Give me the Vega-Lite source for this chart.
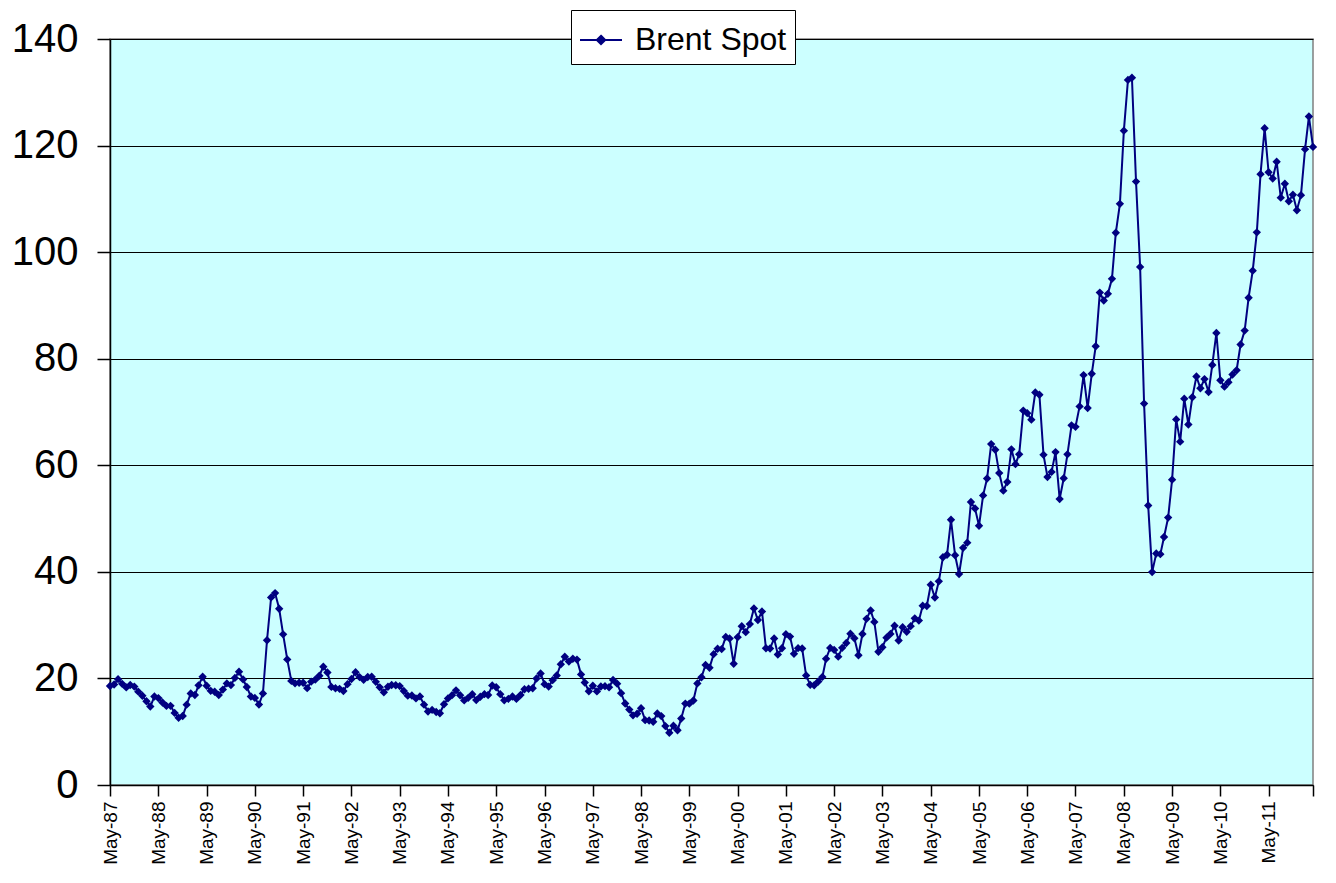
{
  "$schema": "https://vega.github.io/schema/vega-lite/v6.json",
  "width": 1203,
  "height": 746,
  "autosize": {"type": "none"},
  "padding": {"left": 110, "top": 39, "right": 23, "bottom": 98},
  "background": "#ffffff",
  "config": {
    "font": "Liberation Sans",
    "view": {"fill": "#CCFFFF", "stroke": "#808080", "strokeWidth": 1.5}
  },
  "data": {
    "values": [
      {"d":"1987-05","v":18.58},{"d":"1987-06","v":18.86},{"d":"1987-07","v":19.86},{"d":"1987-08","v":18.98},{"d":"1987-09","v":18.31},{"d":"1987-10","v":18.76},{"d":"1987-11","v":18.47},{"d":"1987-12","v":17.52},
      {"d":"1988-01","v":16.75},{"d":"1988-02","v":15.72},{"d":"1988-03","v":14.73},{"d":"1988-04","v":16.60},{"d":"1988-05","v":16.31},{"d":"1988-06","v":15.48},{"d":"1988-07","v":14.84},{"d":"1988-08","v":14.86},{"d":"1988-09","v":13.53},{"d":"1988-10","v":12.61},{"d":"1988-11","v":12.94},{"d":"1988-12","v":15.08},
      {"d":"1989-01","v":17.18},{"d":"1989-02","v":16.89},{"d":"1989-03","v":18.70},{"d":"1989-04","v":20.32},{"d":"1989-05","v":18.63},{"d":"1989-06","v":17.67},{"d":"1989-07","v":17.51},{"d":"1989-08","v":16.88},{"d":"1989-09","v":17.91},{"d":"1989-10","v":19.06},{"d":"1989-11","v":18.75},{"d":"1989-12","v":20.10},
      {"d":"1990-01","v":21.25},{"d":"1990-02","v":19.81},{"d":"1990-03","v":18.39},{"d":"1990-04","v":16.61},{"d":"1990-05","v":16.35},{"d":"1990-06","v":15.10},{"d":"1990-07","v":17.17},{"d":"1990-08","v":27.17},{"d":"1990-09","v":35.20},{"d":"1990-10","v":36.02},{"d":"1990-11","v":33.07},{"d":"1990-12","v":28.27},
      {"d":"1991-01","v":23.57},{"d":"1991-02","v":19.54},{"d":"1991-03","v":19.08},{"d":"1991-04","v":19.18},{"d":"1991-05","v":19.19},{"d":"1991-06","v":18.17},{"d":"1991-07","v":19.40},{"d":"1991-08","v":19.77},{"d":"1991-09","v":20.50},{"d":"1991-10","v":22.21},{"d":"1991-11","v":21.11},{"d":"1991-12","v":18.41},
      {"d":"1992-01","v":18.16},{"d":"1992-02","v":18.05},{"d":"1992-03","v":17.63},{"d":"1992-04","v":18.92},{"d":"1992-05","v":19.89},{"d":"1992-06","v":21.16},{"d":"1992-07","v":20.25},{"d":"1992-08","v":19.74},{"d":"1992-09","v":20.27},{"d":"1992-10","v":20.32},{"d":"1992-11","v":19.36},{"d":"1992-12","v":18.33},
      {"d":"1993-01","v":17.39},{"d":"1993-02","v":18.44},{"d":"1993-03","v":18.77},{"d":"1993-04","v":18.71},{"d":"1993-05","v":18.56},{"d":"1993-06","v":17.64},{"d":"1993-07","v":16.77},{"d":"1993-08","v":16.79},{"d":"1993-09","v":16.25},{"d":"1993-10","v":16.62},{"d":"1993-11","v":15.08},{"d":"1993-12","v":13.79},
      {"d":"1994-01","v":14.09},{"d":"1994-02","v":13.69},{"d":"1994-03","v":13.46},{"d":"1994-04","v":15.15},{"d":"1994-05","v":16.25},{"d":"1994-06","v":16.86},{"d":"1994-07","v":17.77},{"d":"1994-08","v":16.84},{"d":"1994-09","v":15.87},{"d":"1994-10","v":16.36},{"d":"1994-11","v":17.04},{"d":"1994-12","v":15.93},
      {"d":"1995-01","v":16.56},{"d":"1995-02","v":17.05},{"d":"1995-03","v":16.90},{"d":"1995-04","v":18.67},{"d":"1995-05","v":18.34},{"d":"1995-06","v":17.05},{"d":"1995-07","v":15.89},{"d":"1995-08","v":16.17},{"d":"1995-09","v":16.60},{"d":"1995-10","v":16.16},{"d":"1995-11","v":16.90},{"d":"1995-12","v":17.96},
      {"d":"1996-01","v":18.06},{"d":"1996-02","v":18.16},{"d":"1996-03","v":19.99},{"d":"1996-04","v":20.93},{"d":"1996-05","v":18.93},{"d":"1996-06","v":18.47},{"d":"1996-07","v":19.68},{"d":"1996-08","v":20.55},{"d":"1996-09","v":22.67},{"d":"1996-10","v":24.06},{"d":"1996-11","v":23.16},{"d":"1996-12","v":23.70},
      {"d":"1997-01","v":23.53},{"d":"1997-02","v":20.76},{"d":"1997-03","v":19.22},{"d":"1997-04","v":17.60},{"d":"1997-05","v":18.63},{"d":"1997-06","v":17.56},{"d":"1997-07","v":18.48},{"d":"1997-08","v":18.55},{"d":"1997-09","v":18.35},{"d":"1997-10","v":19.72},{"d":"1997-11","v":19.02},{"d":"1997-12","v":17.23},
      {"d":"1998-01","v":15.29},{"d":"1998-02","v":14.15},{"d":"1998-03","v":13.07},{"d":"1998-04","v":13.37},{"d":"1998-05","v":14.40},{"d":"1998-06","v":12.17},{"d":"1998-07","v":12.10},{"d":"1998-08","v":11.86},{"d":"1998-09","v":13.42},{"d":"1998-10","v":12.93},{"d":"1998-11","v":11.05},{"d":"1998-12","v":9.80},
      {"d":"1999-01","v":11.11},{"d":"1999-02","v":10.28},{"d":"1999-03","v":12.48},{"d":"1999-04","v":15.28},{"d":"1999-05","v":15.26},{"d":"1999-06","v":15.85},{"d":"1999-07","v":19.07},{"d":"1999-08","v":20.23},{"d":"1999-09","v":22.54},{"d":"1999-10","v":22.00},{"d":"1999-11","v":24.56},{"d":"1999-12","v":25.56},
      {"d":"2000-01","v":25.51},{"d":"2000-02","v":27.79},{"d":"2000-03","v":27.49},{"d":"2000-04","v":22.76},{"d":"2000-05","v":27.74},{"d":"2000-06","v":29.80},{"d":"2000-07","v":28.68},{"d":"2000-08","v":30.20},{"d":"2000-09","v":33.14},{"d":"2000-10","v":30.96},{"d":"2000-11","v":32.55},{"d":"2000-12","v":25.66},
      {"d":"2001-01","v":25.62},{"d":"2001-02","v":27.50},{"d":"2001-03","v":24.50},{"d":"2001-04","v":25.66},{"d":"2001-05","v":28.31},{"d":"2001-06","v":27.85},{"d":"2001-07","v":24.61},{"d":"2001-08","v":25.68},{"d":"2001-09","v":25.62},{"d":"2001-10","v":20.54},{"d":"2001-11","v":18.80},{"d":"2001-12","v":18.71},
      {"d":"2002-01","v":19.42},{"d":"2002-02","v":20.28},{"d":"2002-03","v":23.70},{"d":"2002-04","v":25.73},{"d":"2002-05","v":25.35},{"d":"2002-06","v":24.08},{"d":"2002-07","v":25.74},{"d":"2002-08","v":26.65},{"d":"2002-09","v":28.40},{"d":"2002-10","v":27.54},{"d":"2002-11","v":24.34},{"d":"2002-12","v":28.33},
      {"d":"2003-01","v":31.18},{"d":"2003-02","v":32.77},{"d":"2003-03","v":30.61},{"d":"2003-04","v":25.00},{"d":"2003-05","v":25.86},{"d":"2003-06","v":27.65},{"d":"2003-07","v":28.35},{"d":"2003-08","v":29.89},{"d":"2003-09","v":27.11},{"d":"2003-10","v":29.61},{"d":"2003-11","v":28.75},{"d":"2003-12","v":29.81},
      {"d":"2004-01","v":31.28},{"d":"2004-02","v":30.86},{"d":"2004-03","v":33.63},{"d":"2004-04","v":33.59},{"d":"2004-05","v":37.57},{"d":"2004-06","v":35.18},{"d":"2004-07","v":38.22},{"d":"2004-08","v":42.74},{"d":"2004-09","v":43.20},{"d":"2004-10","v":49.78},{"d":"2004-11","v":43.11},{"d":"2004-12","v":39.60},
      {"d":"2005-01","v":44.51},{"d":"2005-02","v":45.48},{"d":"2005-03","v":53.10},{"d":"2005-04","v":51.88},{"d":"2005-05","v":48.65},{"d":"2005-06","v":54.35},{"d":"2005-07","v":57.52},{"d":"2005-08","v":63.98},{"d":"2005-09","v":62.91},{"d":"2005-10","v":58.54},{"d":"2005-11","v":55.24},{"d":"2005-12","v":56.86},
      {"d":"2006-01","v":62.99},{"d":"2006-02","v":60.21},{"d":"2006-03","v":62.06},{"d":"2006-04","v":70.26},{"d":"2006-05","v":69.78},{"d":"2006-06","v":68.56},{"d":"2006-07","v":73.67},{"d":"2006-08","v":73.23},{"d":"2006-09","v":61.96},{"d":"2006-10","v":57.81},{"d":"2006-11","v":58.76},{"d":"2006-12","v":62.47},
      {"d":"2007-01","v":53.68},{"d":"2007-02","v":57.56},{"d":"2007-03","v":62.05},{"d":"2007-04","v":67.49},{"d":"2007-05","v":67.21},{"d":"2007-06","v":71.05},{"d":"2007-07","v":76.93},{"d":"2007-08","v":70.76},{"d":"2007-09","v":77.17},{"d":"2007-10","v":82.34},{"d":"2007-11","v":92.41},{"d":"2007-12","v":90.93},
      {"d":"2008-01","v":92.18},{"d":"2008-02","v":94.99},{"d":"2008-03","v":103.64},{"d":"2008-04","v":109.07},{"d":"2008-05","v":122.80},{"d":"2008-06","v":132.32},{"d":"2008-07","v":132.72},{"d":"2008-08","v":113.24},{"d":"2008-09","v":97.23},{"d":"2008-10","v":71.58},{"d":"2008-11","v":52.45},{"d":"2008-12","v":39.95},
      {"d":"2009-01","v":43.44},{"d":"2009-02","v":43.32},{"d":"2009-03","v":46.54},{"d":"2009-04","v":50.18},{"d":"2009-05","v":57.30},{"d":"2009-06","v":68.61},{"d":"2009-07","v":64.44},{"d":"2009-08","v":72.51},{"d":"2009-09","v":67.65},{"d":"2009-10","v":72.77},{"d":"2009-11","v":76.66},{"d":"2009-12","v":74.46},
      {"d":"2010-01","v":76.17},{"d":"2010-02","v":73.75},{"d":"2010-03","v":78.83},{"d":"2010-04","v":84.82},{"d":"2010-05","v":75.95},{"d":"2010-06","v":74.76},{"d":"2010-07","v":75.58},{"d":"2010-08","v":77.04},{"d":"2010-09","v":77.84},{"d":"2010-10","v":82.67},{"d":"2010-11","v":85.28},{"d":"2010-12","v":91.45},
      {"d":"2011-01","v":96.52},{"d":"2011-02","v":103.72},{"d":"2011-03","v":114.64},{"d":"2011-04","v":123.26},{"d":"2011-05","v":114.99},{"d":"2011-06","v":113.83},{"d":"2011-07","v":116.97},{"d":"2011-08","v":110.22},{"d":"2011-09","v":112.83},{"d":"2011-10","v":109.55},{"d":"2011-11","v":110.77},{"d":"2011-12","v":107.87},
      {"d":"2012-01","v":110.69},{"d":"2012-02","v":119.33},{"d":"2012-03","v":125.45},{"d":"2012-04","v":119.75}
    ]
  },
  "mark": {
    "type": "line",
    "strokeWidth": 2,
    "point": {"shape": "diamond", "filled": true, "size": 70, "color": "#000080"}
  },
  "encoding": {
    "x": {
      "field": "d",
      "type": "temporal",
      "title": null,
      "scale": {
        "type": "utc",
        "domain": [
          {"year": 1987, "month": 5, "date": 1, "utc": true},
          {"year": 2012, "month": 4, "date": 1, "utc": true}
        ]
      },
      "axis": {
        "values": [
          {"year": 1987, "month": 5, "date": 1, "utc": true},
          {"year": 1988, "month": 5, "date": 1, "utc": true},
          {"year": 1989, "month": 5, "date": 1, "utc": true},
          {"year": 1990, "month": 5, "date": 1, "utc": true},
          {"year": 1991, "month": 5, "date": 1, "utc": true},
          {"year": 1992, "month": 5, "date": 1, "utc": true},
          {"year": 1993, "month": 5, "date": 1, "utc": true},
          {"year": 1994, "month": 5, "date": 1, "utc": true},
          {"year": 1995, "month": 5, "date": 1, "utc": true},
          {"year": 1996, "month": 5, "date": 1, "utc": true},
          {"year": 1997, "month": 5, "date": 1, "utc": true},
          {"year": 1998, "month": 5, "date": 1, "utc": true},
          {"year": 1999, "month": 5, "date": 1, "utc": true},
          {"year": 2000, "month": 5, "date": 1, "utc": true},
          {"year": 2001, "month": 5, "date": 1, "utc": true},
          {"year": 2002, "month": 5, "date": 1, "utc": true},
          {"year": 2003, "month": 5, "date": 1, "utc": true},
          {"year": 2004, "month": 5, "date": 1, "utc": true},
          {"year": 2005, "month": 5, "date": 1, "utc": true},
          {"year": 2006, "month": 5, "date": 1, "utc": true},
          {"year": 2007, "month": 5, "date": 1, "utc": true},
          {"year": 2008, "month": 5, "date": 1, "utc": true},
          {"year": 2009, "month": 5, "date": 1, "utc": true},
          {"year": 2010, "month": 5, "date": 1, "utc": true},
          {"year": 2011, "month": 5, "date": 1, "utc": true},
          {"year": 2012, "month": 4, "date": 1, "utc": true}
        ],
        "labelExpr": "utcyear(datum.value) >= 2012 ? '' : utcFormat(datum.value, '%b-%y')",
        "labelAngle": 270,
        "labelFontSize": 19,
        "labelColor": "#000000",
        "labelPadding": 5,
        "labelFlush": false,
        "labelOverlap": false,
        "grid": false,
        "domainColor": "#000000",
        "domainWidth": 1.5,
        "tickColor": "#000000",
        "tickWidth": 1.5,
        "tickSize": 11
      }
    },
    "y": {
      "field": "v",
      "type": "quantitative",
      "title": null,
      "scale": {"domain": [0, 140], "nice": false, "zero": true},
      "axis": {
        "values": [0, 20, 40, 60, 80, 100, 120, 140],
        "labelFontSize": 40,
        "labelColor": "#000000",
        "labelPadding": 19,
        "grid": true,
        "gridColor": "#000000",
        "gridWidth": 1.2,
        "gridOpacity": 1,
        "domainColor": "#000000",
        "domainWidth": 1.5,
        "tickColor": "#000000",
        "tickWidth": 1.5,
        "tickSize": 13
      }
    },
    "color": {
      "datum": "Brent Spot",
      "type": "nominal",
      "scale": {"range": ["#000080"]},
      "legend": {
        "title": null,
        "orient": "none",
        "legendX": 461,
        "legendY": -29,
        "symbolType": "M-1,0L1,0M0,-0.2L0.2,0L0,0.2L-0.2,0Z",
        "symbolSize": 1764,
        "symbolStrokeWidth": 2,
        "symbolFillColor": "#000080",
        "symbolStrokeColor": "#000080",
        "labelFont": "Liberation Sans",
        "labelFontSize": 32,
        "labelColor": "#000000",
        "labelOffset": 12,
        "padding": 8,
        "strokeColor": "#000000",
        "fillColor": "#ffffff",
        "cornerRadius": 0
      }
    }
  }
}
